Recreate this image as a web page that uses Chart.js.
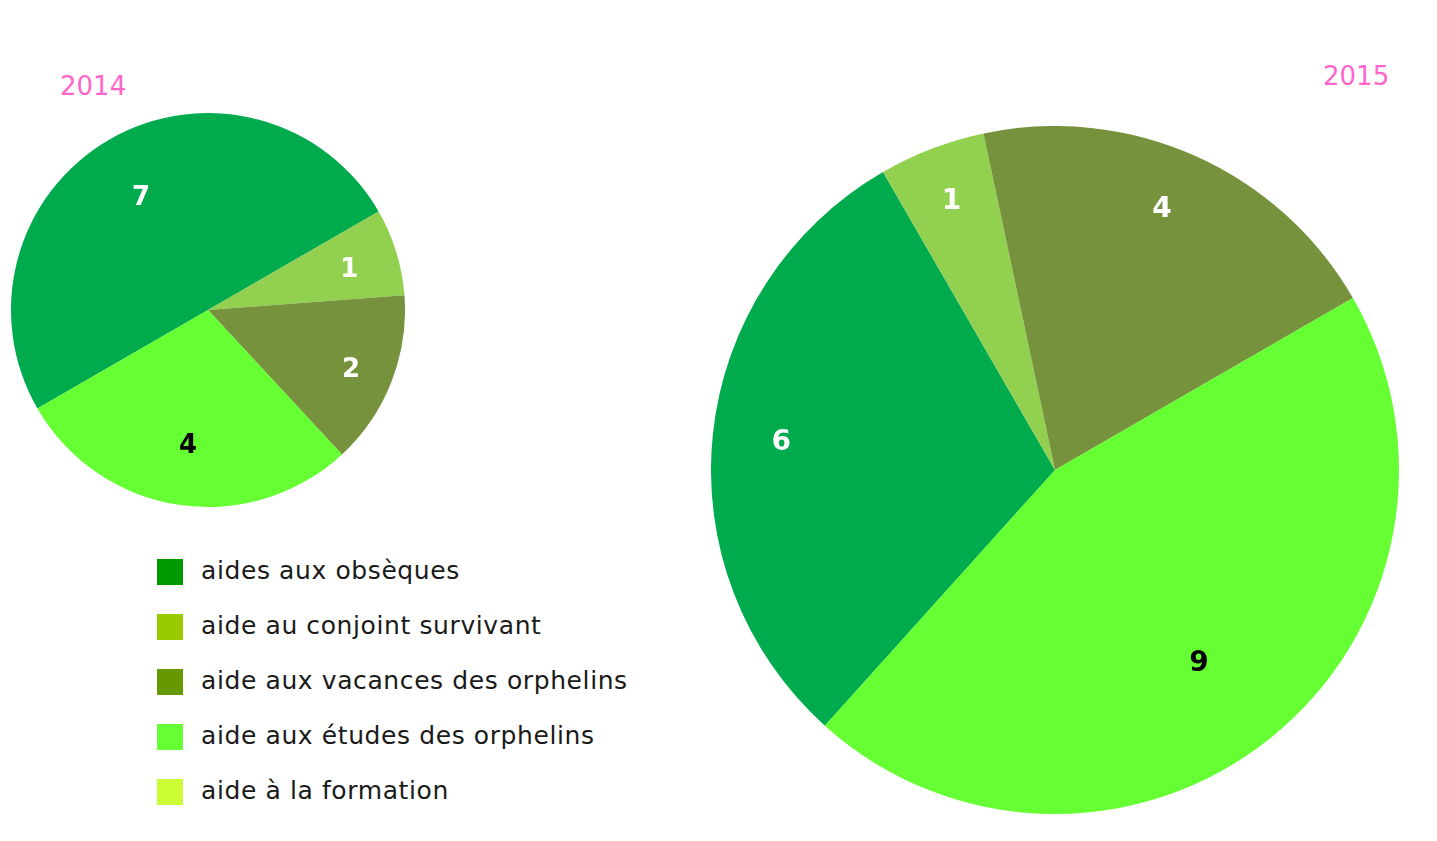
<!DOCTYPE html>
<html>
<head>
<meta charset="utf-8">
<script src="https://cdn.jsdelivr.net/npm/chart.js@4/dist/chart.umd.min.js"></script>
<style>
  html, body { margin: 0; padding: 0; background: #ffffff; }
  body { width: 1437px; height: 841px; position: relative; overflow: hidden; font-family: "DejaVu Sans", sans-serif; }
  .year { position: absolute; color: #ff66cc; font-size: 26px; font-family: "DejaVu Sans", sans-serif; font-weight: normal; }
  #c2014 { position: absolute; left: 11px; top: 113px; }
  #c2015 { position: absolute; left: 711px; top: 126px; }
  #legend { position: absolute; left: 157px; top: 559px; }
  .item { position: absolute; left: 0; height: 26px; white-space: nowrap; }
  .sw { position: absolute; left: 0; top: 0; width: 26px; height: 26px; }
  .lbl { position: absolute; left: 44px; top: -3px; font-size: 25px; letter-spacing: 0.6px; color: #1a1a1a; line-height: 30px; }
</style>
</head>
<body>
<div class="year" id="y2014" style="left:60px; top:71px;"></div>
<div class="year" id="y2015" style="left:1323px; top:61px;"></div>
<canvas id="c2014" width="394" height="394"></canvas>
<canvas id="c2015" width="688" height="688"></canvas>
<div id="legend"></div>
<script>
// ---- data ----
const years = ["2014", "2015"];
const categories2014 = ["aides aux obsèques", "aide au conjoint survivant", "aide aux vacances des orphelins", "aide aux études des orphelins"];
const values2014 = [7, 1, 2, 4];
const categories2015 = ["aides aux obsèques", "aide au conjoint survivant", "aide aux vacances des orphelins", "aide aux études des orphelins"];
const values2015 = [6, 1, 4, 9];
const legendLabels = ["aides aux obsèques", "aide au conjoint survivant", "aide aux vacances des orphelins", "aide aux études des orphelins", "aide à la formation"];

// ---- styles ----
const sliceColors = ["#00ab4e", "#92d050", "#76923c", "#66ff33"];
const labelColors = ["#ffffff", "#ffffff", "#ffffff", "#000000"];
const legendColors = ["#009900", "#99cc00", "#669900", "#66ff33", "#ccff33"];

document.getElementById("y2014").textContent = years[0];
document.getElementById("y2015").textContent = years[1];

const legend = document.getElementById("legend");
legendLabels.forEach((t, i) => {
  const d = document.createElement("div");
  d.className = "item";
  d.style.top = (i * 55) + "px";
  const s = document.createElement("div");
  s.className = "sw";
  s.style.background = legendColors[i];
  const l = document.createElement("div");
  l.className = "lbl";
  l.textContent = t;
  d.appendChild(s); d.appendChild(l);
  legend.appendChild(d);
});

const sliceLabels = {
  id: "sliceLabels",
  afterDatasetsDraw(chart, args, opts) {
    const ctx = chart.ctx;
    const meta = chart.getDatasetMeta(0);
    const ds = chart.data.datasets[0];
    ctx.save();
    ctx.textAlign = "center";
    ctx.textBaseline = "middle";
    ctx.font = "bold " + opts.size + "px 'DejaVu Sans', sans-serif";
    meta.data.forEach((arc, i) => {
      const p = arc.getProps(["x", "y", "startAngle", "endAngle", "outerRadius"], true);
      const mid = (p.startAngle + p.endAngle) / 2 + opts.shifts[i];
      const r = p.outerRadius * opts.factors[i];
      ctx.fillStyle = labelColors[i];
      ctx.fillText(String(ds.data[i]), p.x + Math.cos(mid) * r, p.y + Math.sin(mid) * r + opts.dy);
    });
    ctx.restore();
  }
};

function makePie(id, labels, values, rotation, size, factors, shifts, dy) {
  return new Chart(document.getElementById(id), {
    type: "pie",
    data: {
      labels: labels,
      datasets: [{ data: values, backgroundColor: sliceColors, borderWidth: 0 }]
    },
    options: {
      responsive: false,
      animation: false,
      rotation: rotation,
      layout: { padding: 0 },
      plugins: {
        legend: { display: false },
        tooltip: { enabled: false },
        sliceLabels: { size: size, factors: factors, shifts: shifts, dy: dy }
      }
    },
    plugins: [sliceLabels]
  });
}

makePie("c2014", categories2014, values2014, 240, 26, [0.68, 0.75, 0.78, 0.68], [0, 0, 0, 0], 4);
makePie("c2015", categories2015, values2015, 222, 28, [0.80, 0.84, 0.82, 0.70], [0, 0, -0.03, 0.04], 1);
</script>
</body>
</html>
